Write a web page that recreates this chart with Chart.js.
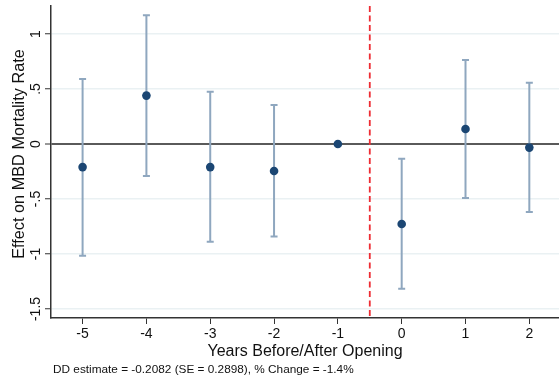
<!DOCTYPE html>
<html>
<head>
<meta charset="utf-8">
<script src="https://cdn.jsdelivr.net/npm/chart.js@4/dist/chart.umd.min.js"></script>
<style>
  html, body { margin: 0; padding: 0; background: #fff; }
  #wrap { width: 559px; height: 377px; }
</style>
</head>
<body>
<div id="wrap"><canvas id="c" width="559" height="377"></canvas></div>
<script>
// Event-study estimates by year relative to opening
const years = [-5, -4, -3, -2, -1, 0, 1, 2];
const estimates = [-0.21, 0.44, -0.21, -0.245, 0, -0.727, 0.136, -0.033];
const ciLower = [-1.015, -0.29, -0.888, -0.84, null, -1.315, -0.49, -0.618];
const ciUpper = [0.59, 1.17, 0.475, 0.355, null, -0.134, 0.764, 0.557];

// Axis ticks
const xTicks = [-5, -4, -3, -2, -1, 0, 1, 2];
const yTicks = [-1.5, -1, -0.5, 0, 0.5, 1];
const yTickLabels = ['-1.5', '-1', '-.5', '0', '.5', '1'];

// Opening marker position
const openingLine = -0.5;

const yTitle = 'Effect on MBD Mortality Rate';
const xTitle = 'Years Before/After Opening';
const footNote = 'DD estimate = -0.2082 (SE = 0.2898), % Change = -1.4%';

const FONT = '"Liberation Sans", Arial, Helvetica, sans-serif';

// Confidence intervals and the opening line, drawn beneath the points
const intervalPlugin = {
  id: 'intervals',
  beforeDatasetsDraw(chart) {
    const { ctx, chartArea, scales: { x, y } } = chart;
    ctx.save();
    // dashed opening marker
    const px = x.getPixelForValue(openingLine);
    ctx.strokeStyle = '#ee2c33';
    ctx.lineWidth = 1.8;
    ctx.setLineDash([6, 3.5]);
    ctx.beginPath();
    ctx.moveTo(px, chartArea.top);
    ctx.lineTo(px, chartArea.bottom);
    ctx.stroke();
    ctx.setLineDash([]);

    // interval whiskers with caps
    ctx.strokeStyle = '#8fa7bf';
    ctx.lineWidth = 2;
    years.forEach((yr, i) => {
      if (ciLower[i] === null || ciUpper[i] === null) return;
      const cx = x.getPixelForValue(yr);
      const y1 = y.getPixelForValue(ciLower[i]);
      const y2 = y.getPixelForValue(ciUpper[i]);
      ctx.beginPath();
      ctx.moveTo(cx, y1); ctx.lineTo(cx, y2);
      ctx.moveTo(cx - 3.5, y1); ctx.lineTo(cx + 3.5, y1);
      ctx.moveTo(cx - 3.5, y2); ctx.lineTo(cx + 3.5, y2);
      ctx.stroke();
    });
    ctx.restore();
  }
};

// Rotated y tick labels, axis titles and the estimate note
const textPlugin = {
  id: 'texts',
  afterDraw(chart) {
    const { ctx, chartArea, scales: { y } } = chart;
    ctx.save();
    ctx.fillStyle = '#111';
    ctx.textAlign = 'center';
    ctx.textBaseline = 'middle';
    ctx.font = '14px ' + FONT;
    yTicks.forEach((v, i) => {
      ctx.save();
      ctx.translate(36, y.getPixelForValue(v));
      ctx.rotate(-Math.PI / 2);
      ctx.fillText(yTickLabels[i], 0, 0);
      ctx.restore();
    });

    ctx.font = '16.3px ' + FONT;
    ctx.save();
    ctx.translate(20, 154);
    ctx.rotate(-Math.PI / 2);
    ctx.fillText(yTitle, 0, 0);
    ctx.restore();

    ctx.font = '16px ' + FONT;
    ctx.fillText(xTitle, (chartArea.left + chartArea.right) / 2, 352);

    ctx.font = '11.8px ' + FONT;
    ctx.textAlign = 'left';
    ctx.fillText(footNote, 53, 370);
    ctx.restore();
  }
};

new Chart(document.getElementById('c'), {
  type: 'scatter',
  data: {
    datasets: [{
      data: years.map((yr, i) => ({ x: yr, y: estimates[i] })),
      backgroundColor: '#1b4673',
      borderWidth: 0,
      pointRadius: 4.3,
      pointHoverRadius: 4.3
    }]
  },
  options: {
    responsive: false,
    animation: false,
    devicePixelRatio: 1,
    layout: { autoPadding: false, padding: { top: 6, left: 0, right: 0, bottom: 0 } },
    plugins: {
      legend: { display: false },
      tooltip: { enabled: false },
      title: { display: false }
    },
    scales: {
      x: {
        type: 'linear',
        min: -5.495,
        max: 2.465,
        afterBuildTicks: s => { s.ticks = xTicks.map(v => ({ value: v })); },
        afterFit: s => { s.height = 59; },
        ticks: {
          color: '#111',
          font: { family: FONT, size: 14 },
          padding: 2,
          maxRotation: 0,
          callback: v => String(v)
        },
        grid: {
          drawOnChartArea: false,
          drawTicks: true,
          tickLength: 6,
          tickColor: '#333',
          tickWidth: 1
        },
        border: { color: '#333', width: 1.5 }
      },
      y: {
        type: 'linear',
        min: -1.582,
        max: 1.2545,
        afterBuildTicks: s => { s.ticks = yTicks.map(v => ({ value: v })); },
        afterFit: s => { s.width = 51; },
        ticks: { display: false },
        grid: {
          drawTicks: true,
          tickLength: 6,
          color: c => (c.tick && c.tick.value === 0) ? '#5a5a5a' : '#eaf1f3',
          lineWidth: c => (c.tick && c.tick.value === 0) ? 2 : 1.5,
          tickColor: '#333',
          tickWidth: 1
        },
        border: { color: '#333', width: 1.5 }
      }
    }
  },
  plugins: [intervalPlugin, textPlugin]
});
</script>
</body>
</html>
